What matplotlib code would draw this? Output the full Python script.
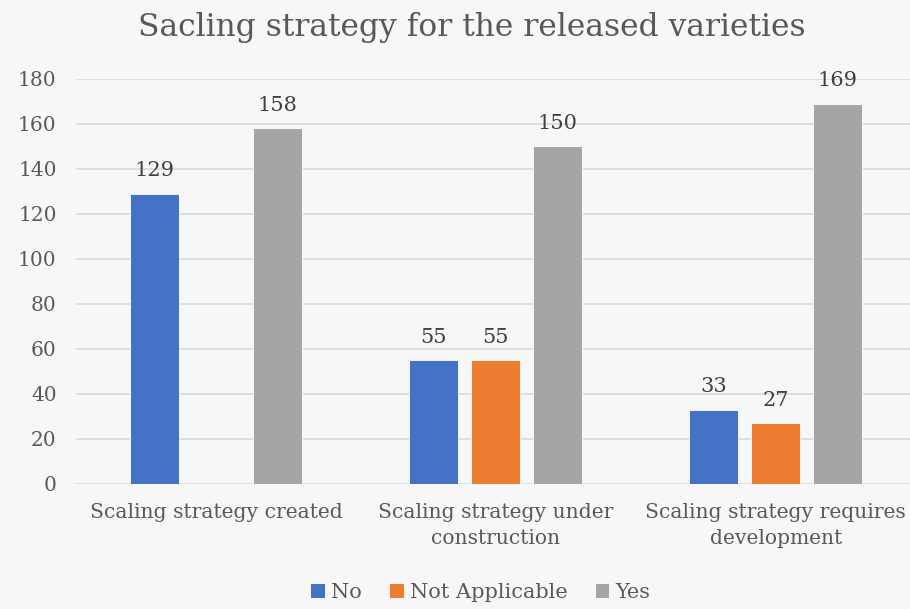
import numpy as np
import matplotlib.pyplot as plt

# ---- data ----
categories = ["Scaling strategy created",
              "Scaling strategy under\nconstruction",
              "Scaling strategy requires\ndevelopment"]
series = ["No", "Not Applicable", "Yes"]
no_vals = [129, 55, 33]
na_vals = [0, 55, 27]
yes_vals = [158, 150, 169]
colors = ["#4472c4", "#ed7d31", "#a5a5a5"]

plt.rcParams["font.family"] = ["DejaVu Serif"]
TXT = "#595959"
BG = "#f7f7f7"

fig = plt.figure(figsize=(9.1, 6.09), dpi=100, facecolor=BG)
ax = fig.add_axes([0.0835, 0.2053, 0.9165, 0.665], facecolor=BG)

x = np.arange(len(categories))
width = 0.175
pitch = 0.221
for i, (name, vals) in enumerate(zip(series, [no_vals, na_vals, yes_vals])):
    pos = x + (i - 1) * pitch
    bars = ax.bar(pos, vals, width, color=colors[i], label=name,
                  edgecolor="white", linewidth=0.6, zorder=3)
    for b, v in zip(bars, vals):
        if v > 0:
            ax.text(b.get_x() + b.get_width() / 2, v + 6, str(v),
                    ha="center", va="bottom", fontsize=15, color="#404040")

ax.set_ylim(0, 180)
ax.set_yticks(range(0, 181, 20))
ax.set_xlim(-0.5, 2.48)
ax.set_xticks(x)
ax.set_xticklabels(categories, fontsize=14.6, color=TXT, linespacing=1.45)
ax.tick_params(axis="y", labelsize=14.5, colors=TXT, length=0, pad=14)
ax.tick_params(axis="x", length=0, pad=14)
ax.grid(axis="y", color="#d9d9d9", linewidth=1.2, zorder=0)
for s in ax.spines.values():
    s.set_visible(False)

fig.suptitle("Sacling strategy for the released varieties", fontsize=22.6,
             color=TXT, x=0.518, y=0.98)

leg = fig.legend(loc="lower center", ncol=3, frameon=False, fontsize=15,
                 bbox_to_anchor=(0.528, -0.019), handlelength=0.7,
                 handleheight=0.7, handletextpad=0.3, columnspacing=1.3)
for t in leg.get_texts():
    t.set_color(TXT)

fig.savefig("out.png", dpi=100, facecolor=BG)
